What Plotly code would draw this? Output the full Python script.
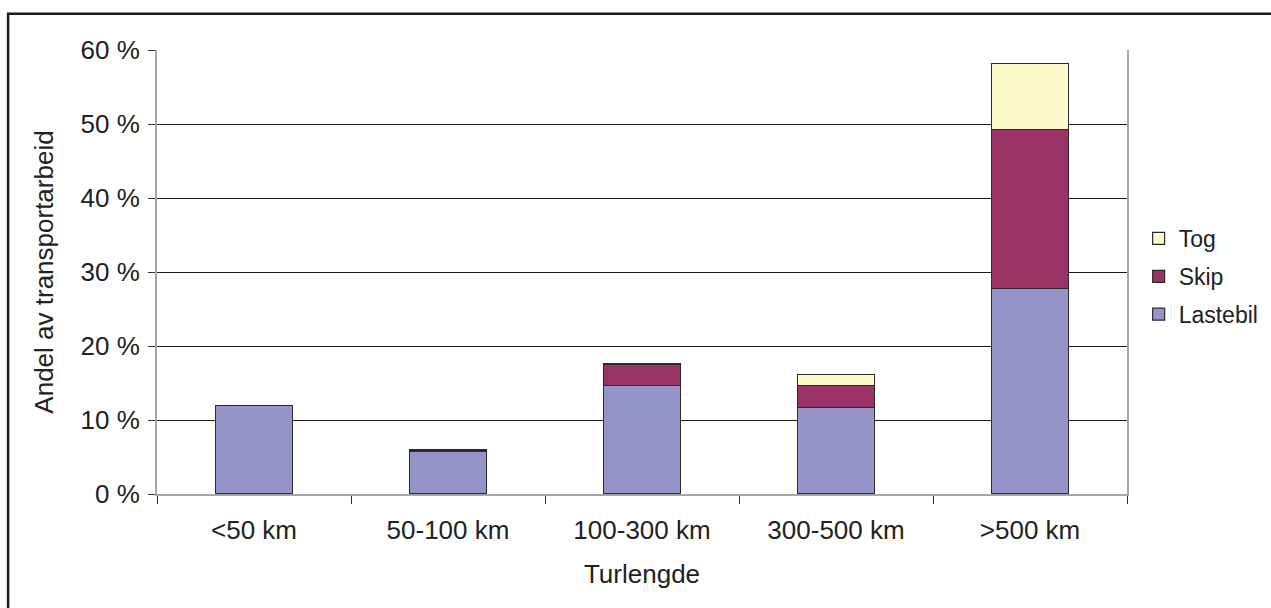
import plotly.graph_objects as go

# Transport share by trip length (percent of total transport work)
categories = ["<50 km", "50-100 km", "100-300 km", "300-500 km", ">500 km"]
lastebil = [12.0, 5.8, 14.7, 11.7, 27.8]
skip = [0.0, 0.2, 2.8, 2.95, 21.5]
tog = [0.0, 0.0, 0.1, 1.55, 8.9]

y_ticks = [0, 10, 20, 30, 40, 50, 60]
y_tick_labels = [f"{v} %" for v in y_ticks]

FONT = "Arial, Liberation Sans, sans-serif"
OUTLINE = "#2b2b2b"
TEXT_SIZE = 26

# (name, values, fill colour, legend position from the top)
series = [
    ("Lastebil", lastebil, "#9494C8", 3),
    ("Skip", skip, "#993366", 2),
    ("Tog", tog, "#FCF9CC", 1),
]

fig = go.Figure()
for name, values, color, rank in series:
    fig.add_trace(go.Bar(
        x=categories,
        y=values,
        name=name,
        legendgroup=name,
        legendrank=rank,
        marker=dict(color=color, line=dict(color=OUTLINE, width=1.2)),
    ))

fig.update_layout(
    width=1271,
    height=608,
    barmode="stack",
    bargap=0.6,
    plot_bgcolor="white",
    paper_bgcolor="white",
    font=dict(family=FONT, size=TEXT_SIZE, color="#222222"),
    margin=dict(l=157, r=144, t=50, b=114, autoexpand=False),
    legend=dict(
        x=1.012,
        y=0.49,
        xanchor="left",
        yanchor="middle",
        traceorder="grouped",
        tracegroupgap=5,
        font=dict(size=23, color="#222222"),
        bgcolor="rgba(0,0,0,0)",
    ),
    showlegend=True,
)

fig.update_xaxes(
    type="category",
    tickson="boundaries",
    ticks="outside",
    ticklen=8,
    tickcolor="#333333",
    ticklabelstandoff=12,
    showline=True,
    linecolor="#a6a6a6",
    linewidth=2,
    showgrid=False,
    tickfont=dict(size=TEXT_SIZE),
    title=dict(text="Turlengde", font=dict(size=TEXT_SIZE), standoff=21),
)

fig.update_yaxes(
    range=[0, 60],
    tickvals=y_ticks,
    ticktext=y_tick_labels,
    ticks="outside",
    ticklen=7,
    tickcolor="#333333",
    ticklabelstandoff=3,
    showline=True,
    mirror=True,
    linecolor="#a6a6a6",
    linewidth=2,
    showgrid=True,
    gridcolor="#1a1a1a",
    gridwidth=1,
    zeroline=False,
    tickfont=dict(size=TEXT_SIZE),
    title=dict(text="Andel av transportarbeid", font=dict(size=TEXT_SIZE), standoff=19),
)

# Outer chart frame (top and left edges visible within the canvas)
fig.add_shape(
    type="rect",
    xref="paper", yref="paper",
    x0=-0.1535, x1=1.2,
    y0=-0.3, y1=1.0815,
    line=dict(color="#1a1a1a", width=2.5),
    fillcolor="rgba(0,0,0,0)",
    layer="above",
)

fig.write_html("out.html")
